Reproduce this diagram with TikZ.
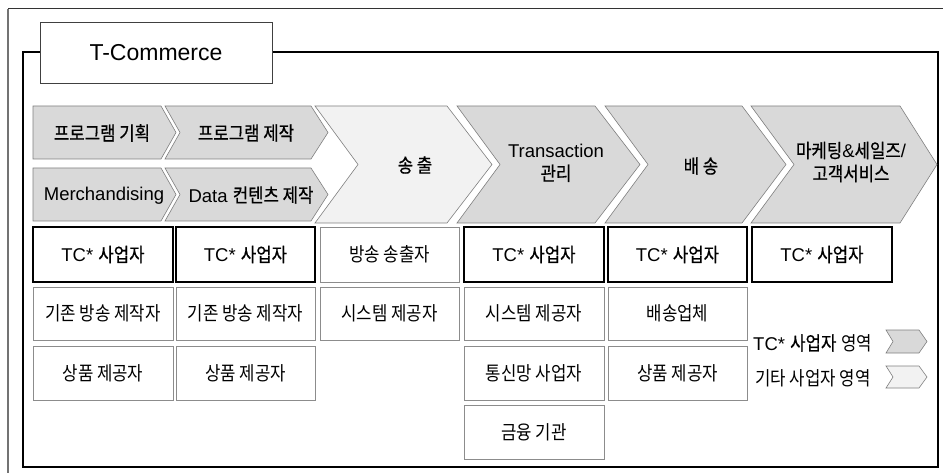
\documentclass[tikz,border=0pt]{standalone}
\usepackage{fontspec}
\setmainfont{Liberation Sans}
\newfontfamily\krf{Noto Sans CJK KR}[Scale=1.04, FakeStretch=0.87]
\newfontfamily\krb{Noto Sans CJK KR}[Scale=1.04, FakeStretch=0.87, FakeBold=0.6]
\newcommand\K[1]{{\krf #1}}
\newcommand\KB[1]{{\krb #1}}
\definecolor{tcgray}{HTML}{D9D9D9}
\definecolor{etcgray}{HTML}{F2F2F2}
\definecolor{chevline}{HTML}{7F7F7F}
\definecolor{thinline}{HTML}{8C8C8C}
\newcommand\chev[7]{% style, xl, xr, yt, yb, tip depth, notch depth
  \path[#1] (#2,#4) -- (#3,#4) -- ({#3+#6},{(#4+#5)/2}) -- (#3,#5) -- (#2,#5) -- ({#2+#7},{(#4+#5)/2}) -- cycle;}
\tikzset{
  chevtc/.style={fill=tcgray, draw=chevline, line width=0.6pt, line join=miter},
  chevetc/.style={fill=etcgray, draw=chevline, line width=0.6pt, line join=miter},
  txt/.style={inner sep=0pt, align=center, font=\fontsize{18.5}{23}\selectfont},
  tcbox/.style={draw=black, line width=1.4pt, inner sep=0pt, align=center, font=\fontsize{18.5}{23}\selectfont},
  etcbox/.style={draw=thinline, line width=0.8pt, inner sep=0pt, align=center, font=\fontsize{18.5}{23}\selectfont},
}
\begin{document}
\begin{tikzpicture}[x=1pt,y=-1pt]
\useasboundingbox (0,0) rectangle (943,473);
% outer frame (partly visible)
\draw[black!80, line width=1pt] (8,9) -- (943,9);
\draw[black!55, line width=2pt] (8,9) -- (8,473);
% inner frame
\draw[black, line width=1.3pt] (23,52) rectangle (938,467);
% title box
\node[draw=black!75, fill=white, line width=0.9pt, minimum width=232pt, minimum height=61pt, inner sep=0pt,
      font=\fontsize{23}{26}\selectfont] (title) at (156,52.5) {T-Commerce};

% small chevrons
\chev{chevtc}{33}{161}{106}{159}{15}{0}
\chev{chevtc}{165}{311}{106}{159}{17}{15}
\chev{chevtc}{33}{161}{168}{221}{15}{0}
\chev{chevtc}{165}{311}{168}{221}{17}{15}
% large chevrons
\chev{chevetc}{315}{447}{106}{223}{45}{43}
\chev{chevtc}{457}{595}{106}{223}{45}{43}
\chev{chevtc}{605}{742}{106}{223}{44}{43}
\chev{chevtc}{751}{900}{106}{223}{37}{43}

\node[txt] (c1) at (102,133) {\KB{프로그램 기획}};
\node[txt] (c2) at (246,133) {\KB{프로그램 제작}};
\node[txt] (c3) at (104,196) {Merchandising};
\node[txt] (c4) at (251,195) {Data \KB{컨텐츠 제작}};
\node[txt] (c5) at (415,165) {\KB{송 출}};
\node[txt] (c6) at (556,163) {Transaction\\\KB{관리}};
\node[txt] (c7) at (701,166) {\KB{배 송}};
\node[txt] (c8) at (851,162) {\KB{마케팅}\&\KB{세일즈}/\\\KB{고객서비스}};

% boxes row 1
\node[tcbox, minimum width=140pt, minimum height=55pt] (b11) at (103,254.5) {TC* \KB{사업자}};
\node[tcbox, minimum width=139pt, minimum height=55pt] (b21) at (245.5,254.5) {TC* \KB{사업자}};
\node[etcbox, minimum width=139pt, minimum height=55pt] (b31) at (389.5,254.5) {\K{방송 송출자}};
\node[tcbox, minimum width=140pt, minimum height=55pt] (b41) at (534,254.5) {TC* \KB{사업자}};
\node[tcbox, minimum width=139pt, minimum height=55pt] (b51) at (677.5,254.5) {TC* \KB{사업자}};
\node[tcbox, minimum width=140pt, minimum height=55pt] (b61) at (822,254.5) {TC* \KB{사업자}};
% row 2
\node[etcbox, minimum width=140pt, minimum height=53pt] (b12) at (103,313.5) {\K{기존 방송 제작자}};
\node[etcbox, minimum width=139pt, minimum height=53pt] (b22) at (245.5,313.5) {\K{기존 방송 제작자}};
\node[etcbox, minimum width=139pt, minimum height=53pt] (b32) at (389.5,313.5) {\K{시스템 제공자}};
\node[etcbox, minimum width=140pt, minimum height=53pt] (b42) at (534,313.5) {\K{시스템 제공자}};
\node[etcbox, minimum width=139pt, minimum height=53pt] (b52) at (677.5,313.5) {\K{배송업체}};
% row 3
\node[etcbox, minimum width=140pt, minimum height=54pt] (b13) at (103,373) {\K{상품 제공자}};
\node[etcbox, minimum width=139pt, minimum height=54pt] (b23) at (245.5,373) {\K{상품 제공자}};
\node[etcbox, minimum width=140pt, minimum height=54pt] (b43) at (534,373) {\K{통신망 사업자}};
\node[etcbox, minimum width=139pt, minimum height=54pt] (b53) at (677.5,373) {\K{상품 제공자}};
% row 4
\node[etcbox, minimum width=140pt, minimum height=54pt] (b44) at (534,432) {\K{금융 기관}};

% legend
\node[txt, anchor=west] (l1) at (753,343) {TC* \KB{사업자} \K{영역}};
\node[txt, anchor=west] (l2) at (755,378) {\K{기타 사업자 영역}};
\chev{chevtc}{886}{919}{330}{353}{8}{7}
\chev{chevetc}{886}{919}{366}{388}{8}{7}
\end{tikzpicture}
\end{document}
